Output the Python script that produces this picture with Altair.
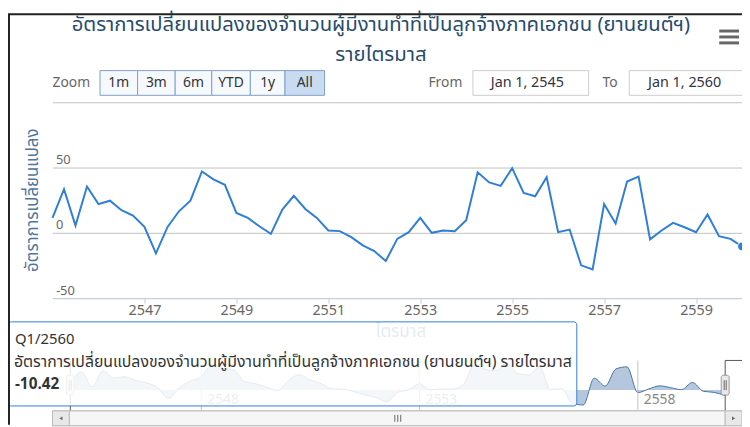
import altair as alt
import pandas as pd

# ---------------- data ----------------
start_year = 2545
values = [11.4, 33.5, 5.6, 35.5,
          22.0, 24.6, 17.3, 13.2,
          4.6, -15.7, 4.3, 16.5,
          24.6, 47.0, 41.0, 36.8,
          15.2, 11.4, 5.0, -0.8,
          17.8, 28.4, 18.3, 11.4,
          1.8, 1.3, -3.3, -9.6,
          -14.0, -21.6, -4.6, 0.5,
          11.4, 0.0, 1.8, 1.3,
          9.6, 46.4, 38.6, 36.0,
          49.5, 30.5, 28.0, 42.6,
          0.5, 2.5, -24.9, -28.0,
          22.0, 7.1, 39.3, 43.1,
          -5.0, 1.8, 7.6, 4.3,
          0.5, 14.0, -2.5, -4.6,
          -10.42]
x_ticks = [2547, 2549, 2551, 2553, 2555, 2557, 2559]
y_ticks = [-50, 0, 50, 100]
nav_ticks = [2548, 2553, 2558]
zoom_buttons = ["1m", "3m", "6m", "YTD", "1y", "All"]
title_lines = ["อัตราการเปลี่ยนแปลงของจำนวนผู้มีงานทำที่เป็นลูกจ้างภาคเอกชน (ยานยนต์ฯ)", "รายไตรมาส"]
y_title = "อัตราการเปลี่ยนแปลง"
x_title = "ไตรมาส"
series_name = "อัตราการเปลี่ยนแปลงของจำนวนผู้มีงานทำที่เป็นลูกจ้างภาคเอกชน (ยานยนต์ฯ) รายไตรมาส"
tooltip_header = "Q1/2560"
tooltip_value = "-10.42"
from_label, to_label = "Jan 1, 2545", "Jan 1, 2560"

df = pd.DataFrame({"t": [start_year + i / 4 for i in range(len(values))], "v": values})
last = df.tail(1)
nav_df = pd.DataFrame({"t": nav_ticks, "label": [str(y) for y in nav_ticks]})
one = pd.DataFrame({"a": [0]})

FONT = "Tahoma, 'Noto Sans Thai', 'Noto Sans', 'DejaVu Sans', sans-serif"
W, H = 697, 198
LINE = "#2f7ed8"

# ---------------- main plot ----------------
x_main = alt.X("t:Q", scale=alt.Scale(domain=[2545, 2560], nice=False, zero=False),
               axis=alt.Axis(values=x_ticks, format="d", title=None, grid=False,
                             domainColor="#C0D0E0", tickColor="#C0D0E0", tickSize=5,
                             labelColor="#666666", labelFontSize=14.5, labelFont=FONT,
                             labelPadding=1, labelFlush=False, labelOverlap=False))
y_main = alt.Y("v:Q", scale=alt.Scale(domain=[-50, 100], nice=False, zero=False),
               axis=alt.Axis(values=y_ticks, title=None, grid=True, gridColor="#C0C0C0",
                             domain=False, ticks=False, tickSize=0, labelAlign="left",
                             labelBaseline="bottom", labelPadding=-3, labelOffset=-1,
                             labelColor="#666666", labelFontSize=13, labelFont=FONT,
                             labelFlush=False, labelOverlap=False,
                             labelExpr="datum.value == 100 ? '' : datum.label"))

line = alt.Chart(df).mark_line(color=LINE, strokeWidth=2).encode(x=x_main, y=y_main)
point = alt.Chart(last).mark_point(filled=True, size=80, color=LINE, opacity=1,
                                   stroke="white", strokeWidth=1).encode(x=x_main, y=y_main)
main = alt.layer(line, point)

# ---------------- helpers for decorations ----------------
def rect(x, x2, y, y2, **kw):
    return alt.Chart(one).mark_rect(**kw).encode(
        x=alt.value(x), x2=alt.value(x2), y=alt.value(y), y2=alt.value(y2))

def rule(x, y, x2, y2, **kw):
    return alt.Chart(one).mark_rule(**kw).encode(
        x=alt.value(x), y=alt.value(y), x2=alt.value(x2), y2=alt.value(y2))

def text(x, y, s, **kw):
    kw.setdefault("font", FONT)
    return alt.Chart(one).mark_text(**kw).encode(
        x=alt.value(x), y=alt.value(y), text=alt.value(s))

# ---------------- axis titles ----------------
ytitle = text(-20, 99, y_title, angle=270, align="center", baseline="middle",
              fontSize=17, color="#4d759e")
xtitle = text(352, 232, x_title, align="center", baseline="middle",
              fontSize=17, color="#4d759e")

# ---------------- navigator ----------------
nav_x = alt.X("t:Q", scale=alt.Scale(domain=[2545, 2560], range=[18, 680], nice=False, zero=False), axis=None)
nav_y = alt.Y("v:Q", scale=alt.Scale(domain=[-28, 49.5], range=[306, 264], nice=False, zero=False), axis=None)
nav_area = alt.Chart(df).mark_area(interpolate="monotone", fill="#4572A7", fillOpacity=0.4).encode(
    x=nav_x, y=nav_y, y2=alt.value(307))
nav_line = alt.Chart(df).mark_line(interpolate="monotone", color="#4572A7", strokeWidth=1).encode(
    x=nav_x, y=nav_y)
nav_grid = alt.Chart(nav_df).mark_rule(color="#c0c0c0", strokeWidth=1).encode(
    x=nav_x, y=alt.value(261), y2=alt.value(311))
nav_labels = alt.Chart(nav_df).mark_text(align="left", baseline="middle", dx=6, fontSize=14,
                                         color="#888888", font=FONT).encode(
    x=nav_x, y=alt.value(301), text="label:N")
navigator = alt.layer(nav_area, nav_line, nav_grid, nav_labels)

nav_deco = [
    rule(680, 261, 680, 312, color="#555555", strokeWidth=1),
    rule(680, 261, 697, 261, color="#555555", strokeWidth=1),
    rule(18, 261, 18, 312, color="#555555", strokeWidth=1),
    rect(14, 22, 276, 296, fill="#ebe7e8", stroke="#999999", strokeWidth=1, cornerRadius=2),
    rule(17, 281, 17, 291, color="#666666", strokeWidth=1),
    rule(19, 281, 19, 291, color="#666666", strokeWidth=1),
    rect(676, 684, 276, 296, fill="#ebe7e8", stroke="#999999", strokeWidth=1, cornerRadius=2),
    rule(679, 281, 679, 291, color="#666666", strokeWidth=1),
    rule(681, 281, 681, 291, color="#666666", strokeWidth=1),
]

# ---------------- scrollbar ----------------
scroll = [
    rect(0, 697, 312, 327, fill="#eeeeee", stroke="#bbbbbb", strokeWidth=1),
    rect(17, 680, 312, 327, fill="#f6f6f6", stroke="#bbbbbb", strokeWidth=1),
    rect(0, 17, 312, 327, fill="#e8e8e8", stroke="#bbbbbb", strokeWidth=1),
    rect(680, 697, 312, 327, fill="#e8e8e8", stroke="#bbbbbb", strokeWidth=1),
    alt.Chart(one).mark_point(shape="triangle-left", filled=True, size=14, color="#666666", opacity=1).encode(
        x=alt.value(8.5), y=alt.value(319.5)),
    alt.Chart(one).mark_point(shape="triangle-right", filled=True, size=14, color="#666666", opacity=1).encode(
        x=alt.value(688.5), y=alt.value(319.5)),
    rule(346, 316, 346, 323, color="#666666", strokeWidth=1),
    rule(349, 316, 349, 323, color="#666666", strokeWidth=1),
    rule(352, 316, 352, 323, color="#666666", strokeWidth=1),
]

# ---------------- tooltip ----------------
tooltip = [
    rect(-44.5, 530, 222, 307, fill="white", fillOpacity=0.85, stroke=LINE, strokeWidth=1, cornerRadius=3),
    text(-38, 239, tooltip_header, align="left", baseline="middle", fontSize=15, color="#333333"),
    text(-39, 263, series_name, align="left", baseline="middle", fontSize=16, color="#333333"),
    text(-38, 285, tooltip_value, align="left", baseline="middle", fontSize=15.5, fontWeight="bold", color="#333333"),
]

# ---------------- title, menu, range selector ----------------
header = [
    rule(-45, -89, 697, -89, color="#222222", strokeWidth=2),
    rule(-44, -89, -44, 326, color="#222222", strokeWidth=2),
    text(332, -72, title_lines[0], align="center", baseline="alphabetic", fontSize=20.5, color="#274b6d"),
    text(332, -42, title_lines[1], align="center", baseline="alphabetic", fontSize=20.5, color="#274b6d"),
    rule(674, -72, 694, -72, color="#666666", strokeWidth=3),
    rule(674, -66, 694, -66, color="#666666", strokeWidth=3),
    rule(674, -60, 694, -60, color="#666666", strokeWidth=3),
    text(0, -19, "Zoom", align="left", baseline="middle", fontSize=14, color="#666666"),
    text(380, -19, "From", align="left", baseline="middle", fontSize=14, color="#666666"),
    text(556, -19, "To", align="left", baseline="middle", fontSize=14, color="#666666"),
    rect(425, 542, -32, -7, fill="white", stroke="#cccccc", strokeWidth=1),
    rect(583, 705, -32, -7, fill="white", stroke="#cccccc", strokeWidth=1),
    text(480, -19, from_label, align="center", baseline="middle", fontSize=14.5, color="#333344"),
    text(639, -19, to_label, align="center", baseline="middle", fontSize=14.5, color="#333344"),
]
edges = [48, 86, 124, 161, 200, 235, 275]
for i, lab in enumerate(zoom_buttons):
    sel = lab == "All"
    header.append(rect(edges[i], edges[i + 1], -32, -7,
                       fill="#c9dbf0" if sel else "#f6f9fc", stroke="#7f9fc6", strokeWidth=1))
    header.append(text((edges[i] + edges[i + 1]) / 2, -19, lab, align="center", baseline="middle",
                       fontSize=14, color="#333333"))

chart = alt.layer(
    main, xtitle, ytitle, navigator, *nav_deco, *scroll, *tooltip, *header
).resolve_scale(x="independent", y="independent").properties(
    width=W, height=H,
    padding={"left": 45, "top": 93, "right": 0, "bottom": 128},
    autosize=alt.AutoSizeParams(type="none"),
    background="white",
).configure_view(strokeWidth=0)

chart.save("out.html", embed_options={"renderer": "svg", "actions": False})
